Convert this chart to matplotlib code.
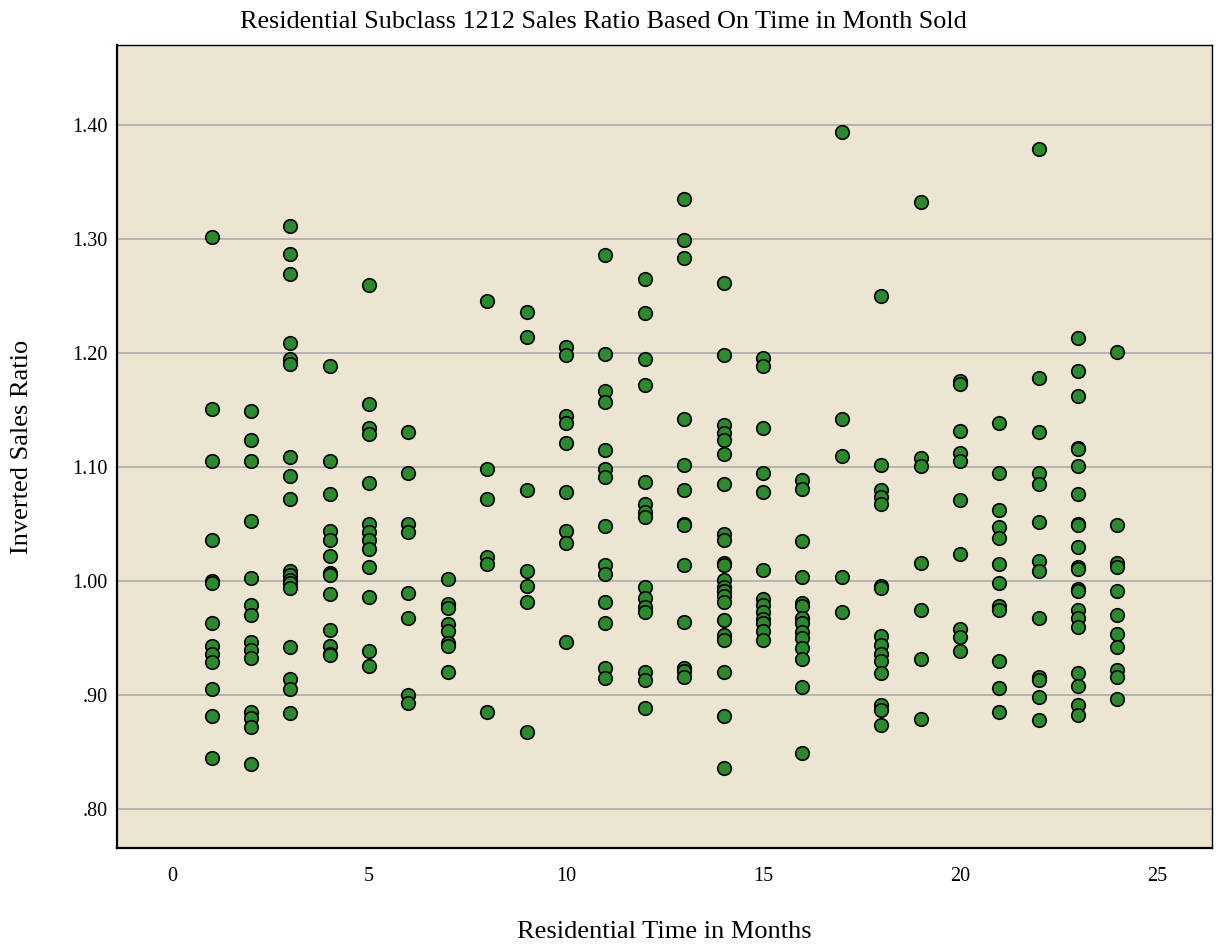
import matplotlib
matplotlib.use("Agg")
import matplotlib.pyplot as plt
from matplotlib.ticker import FuncFormatter

# Data: month sold -> inverted sales ratios
months = list(range(1, 25))
ratios = {
    1: [1.302, 1.151, 1.105, 1.036, 1.000, 0.998, 0.963, 0.943, 0.936, 0.929, 0.905, 0.882, 0.845],
    2: [1.149, 1.124, 1.105, 1.053, 1.003, 0.979, 0.970, 0.947, 0.940, 0.933, 0.885, 0.880, 0.872, 0.840],
    3: [1.311, 1.287, 1.269, 1.209, 1.195, 1.190, 1.109, 1.092, 1.072, 1.009, 1.005, 1.001, 0.998,
        0.994, 0.942, 0.914, 0.905, 0.884],
    4: [1.189, 1.105, 1.076, 1.044, 1.036, 1.022, 1.007, 1.005, 0.989, 0.957, 0.943, 0.936, 0.935],
    5: [1.260, 1.155, 1.134, 1.129, 1.086, 1.050, 1.043, 1.036, 1.028, 1.012, 0.986, 0.939, 0.926],
    6: [1.131, 1.095, 1.050, 1.043, 0.990, 0.968, 0.900, 0.893],
    7: [1.002, 0.980, 0.976, 0.962, 0.956, 0.946, 0.943, 0.920],
    8: [1.246, 1.098, 1.072, 1.021, 1.015, 0.885],
    9: [1.236, 1.214, 1.080, 1.009, 0.996, 0.982, 0.868],
    10: [1.205, 1.198, 1.145, 1.139, 1.121, 1.078, 1.044, 1.033, 0.947],
    11: [1.286, 1.199, 1.167, 1.157, 1.115, 1.098, 1.091, 1.048, 1.014, 1.006, 0.982, 0.963, 0.924, 0.915],
    12: [1.265, 1.235, 1.195, 1.172, 1.087, 1.068, 1.061, 1.056, 0.995, 0.985, 0.977, 0.973,
         0.920, 0.913, 0.889],
    13: [1.335, 1.299, 1.283, 1.142, 1.102, 1.080, 1.050, 1.049, 1.014, 0.964, 0.924, 0.921, 0.916],
    14: [1.261, 1.198, 1.137, 1.130, 1.124, 1.111, 1.085, 1.041, 1.036, 1.016, 1.014, 1.001, 0.995,
         0.991, 0.987, 0.982, 0.966, 0.953, 0.948, 0.920, 0.882, 0.836],
    15: [1.196, 1.189, 1.134, 1.095, 1.078, 1.010, 0.984, 0.979, 0.973, 0.967, 0.963, 0.956, 0.948],
    16: [1.089, 1.081, 1.035, 1.004, 0.981, 0.978, 0.968, 0.963, 0.955, 0.950, 0.941, 0.932, 0.907, 0.849],
    17: [1.394, 1.142, 1.110, 1.004, 0.973],
    18: [1.250, 1.102, 1.080, 1.074, 1.068, 0.996, 0.994, 0.952, 0.944, 0.936, 0.930, 0.919,
         0.891, 0.887, 0.874],
    19: [1.332, 1.108, 1.101, 1.016, 0.975, 0.932, 0.879],
    20: [1.175, 1.173, 1.132, 1.112, 1.105, 1.071, 1.024, 0.958, 0.951, 0.939],
    21: [1.139, 1.095, 1.062, 1.047, 1.038, 1.015, 0.998, 0.978, 0.975, 0.930, 0.906, 0.885],
    22: [1.379, 1.178, 1.131, 1.095, 1.085, 1.052, 1.018, 1.009, 0.968, 0.916, 0.913, 0.898, 0.878],
    23: [1.213, 1.184, 1.162, 1.117, 1.116, 1.101, 1.076, 1.050, 1.049, 1.030, 1.012, 1.011, 0.993,
         0.991, 0.975, 0.968, 0.960, 0.919, 0.908, 0.891, 0.883],
    24: [1.201, 1.049, 1.016, 1.012, 0.991, 0.970, 0.954, 0.942, 0.922, 0.916, 0.897],
}

x_ticks = [0, 5, 10, 15, 20, 25]
y_ticks = [0.80, 0.90, 1.00, 1.10, 1.20, 1.30, 1.40]

title = "Residential Subclass 1212 Sales Ratio Based On Time in Month Sold"
x_label = "Residential Time in Months"
y_label = "Inverted Sales Ratio"

xs, ys = [], []
for m in months:
    for r in ratios[m]:
        xs.append(m)
        ys.append(r)

plt.rcParams['font.family'] = ['Liberation Serif', 'DejaVu Serif']

fig = plt.figure(figsize=(12.16, 9.48), dpi=100)
ax = fig.add_axes([117/1216, 1 - 848/948, (1212-117)/1216, (848-45)/948])
ax.set_facecolor('#ECE5D2')

ax.set_xlim(-1.4, 26.4)
ax.set_ylim(0.766, 1.470)
ax.set_xticks(x_ticks)
ax.set_yticks(y_ticks)

def yfmt(v, pos):
    s = f"{v:.2f}"
    if s.startswith("0"):
        s = s[1:]
    return s

ax.yaxis.set_major_formatter(FuncFormatter(yfmt))
ax.yaxis.grid(True, color='#ABABAB', linewidth=1.2)
ax.xaxis.grid(False)
ax.set_axisbelow(True)

ax.scatter(xs, ys, s=95, c='#2B8A2B', edgecolors='black', linewidths=1.2, zorder=3)

ax.tick_params(axis='both', length=0, labelsize=14.5, colors='black')
ax.tick_params(axis='x', pad=14)
ax.tick_params(axis='y', pad=7)

for sp in ax.spines.values():
    sp.set_color('black')
    sp.set_linewidth(1.0)
ax.spines['left'].set_linewidth(1.6)
ax.spines['bottom'].set_linewidth(1.6)

fig.text(664.5/1216, 1 - 932/948, x_label, ha='center', va='center', fontsize=19)
fig.text(22/1216, 1 - 447/948, y_label, ha='center', va='center', rotation=90, fontsize=19)
fig.text(603.5/1216, 1 - 22/948, title, ha='center', va='center', fontsize=18.8)

fig.savefig("out.png", dpi=100)
